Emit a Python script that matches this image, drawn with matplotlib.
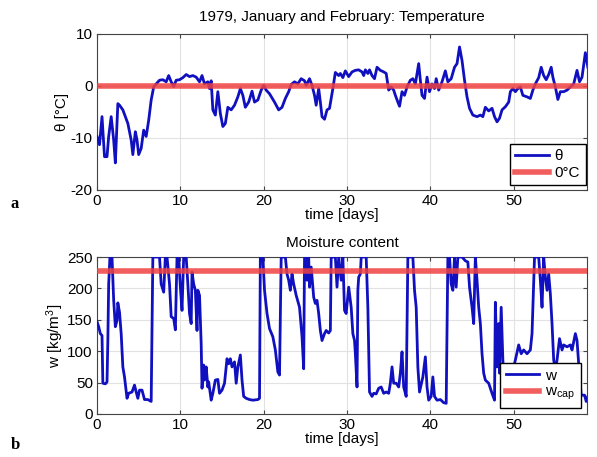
import matplotlib
matplotlib.use("Agg")
import matplotlib.pyplot as plt

# temperature
temp_days = [0, 0.3, 0.6, 0.9, 1.2, 1.4, 1.7, 2.0, 2.2, 2.5, 2.7, 3.1, 3.4, 3.7,
             4.1, 4.3, 4.6, 4.8, 5.0, 5.3, 5.6, 5.9, 6.2, 6.5, 6.8, 7.1, 7.5,
             7.9, 8.3, 8.6, 8.9, 9.2, 9.5, 9.9, 10.3, 10.7, 11.1, 11.5, 11.9,
             12.3, 12.6, 12.9, 13.3, 13.5, 13.7, 13.9, 14.2, 14.5, 14.8, 15.1,
             15.4, 15.7, 16.1, 16.5, 16.9, 17.2, 17.5, 17.8, 18.2, 18.6, 18.9,
             19.3, 19.7, 20.0, 20.3, 20.7, 21.3, 21.8, 22.2, 22.6, 23.0, 23.3,
             23.7, 24.1, 24.5, 24.9, 25.1, 25.5, 25.8, 26.1, 26.3, 26.6, 26.8,
             27.0, 27.3, 27.6, 27.9, 28.3, 28.6, 29.0, 29.2, 29.5, 29.8, 30.2,
             30.6, 31.0, 31.4, 31.8, 32.0, 32.2, 32.5, 32.7, 33.0, 33.3, 33.6,
             34.0, 34.4, 34.7, 35.0, 35.3, 35.6, 35.8, 36.1, 36.3, 36.6, 36.9,
             37.2, 37.6, 37.9, 38.2, 38.6, 38.8, 39.0, 39.3, 39.6, 39.9, 40.2,
             40.5, 40.7, 41.0, 41.4, 41.8, 42.1, 42.5, 42.9, 43.2, 43.5, 43.8,
             44.1, 44.4, 44.7, 45.1, 45.6, 46.0, 46.3, 46.6, 47.0, 47.4, 47.7,
             48.0, 48.3, 48.6, 49.0, 49.4, 49.6, 49.9, 50.2, 50.5, 50.8, 51.1,
             51.6, 52.0, 52.3, 52.6, 53.0, 53.3, 53.6, 53.9, 54.2, 54.5, 54.7,
             55.0, 55.3, 55.6, 56.0, 56.4, 56.8, 57.2, 57.6, 57.9, 58.2, 58.6,
             58.9]
temp = [-9.7, -11.3, -5.9, -13.6, -13.6, -9.7, -5.9, -10.4, -14.8, -3.4, -3.7,
        -4.6, -5.9, -7.2, -10.4, -13.2, -8.8, -10.4, -13.2, -12.0, -8.5, -9.7,
        -6.6, -2.7, -0.2, 0.4, 1.1, 1.2, 0.8, 2.0, 0.8, -0.1, 1.1, 1.2, 1.6,
        2.2, 1.8, 2.0, 1.7, 0.8, 2.0, 0.4, 0.8, -0.5, 1.0, -4.6, -5.6, -1.1,
        -5.3, -7.8, -7.2, -4.1, -4.6, -3.7, -2.1, -0.5, -1.8, -4.1, -3.1,
        -1.0, -3.1, -2.7, -0.8, 0.1, -0.8, -1.5, -3.1, -4.6, -4.1, -2.4,
        -1.1, 0.3, 0.8, 0.4, 1.4, 1.0, 0.1, 1.4, 0.1, -1.8, -3.7, -0.5, -3.1,
        -5.9, -6.4, -4.6, -4.3, -0.5, 2.6, 2.0, 2.4, 1.6, 2.9, 1.8, 2.7, 3.0,
        3.1, 2.7, 2.0, 3.1, 2.4, 3.1, 2.0, 1.4, 3.6, 3.0, 2.7, 2.4, -0.8,
        -0.2, -0.8, -1.8, -3.1, -3.9, -1.1, -1.8, -0.2, 1.1, 1.4, 0.4, 4.3,
        1.1, -1.8, -2.4, 1.7, -1.1, 0.4, -0.5, 1.4, -0.8, 0.8, 2.9, 0.8, 1.4,
        3.6, 4.3, 7.5, 4.9, 1.1, -2.1, -4.3, -5.6, -5.9, -5.6, -5.9, -4.1,
        -4.8, -4.3, -5.9, -6.9, -6.2, -4.6, -4.0, -3.1, -1.1, -0.5, -1.1,
        -0.5, -0.2, -1.8, -2.1, -2.4, -0.8, 0.4, 1.6, 3.6, 2.0, 1.2, 2.2, 3.6,
        1.7, -0.2, -2.6, -1.1, -1.1, -0.8, -0.2, 0.4, 3.0, 0.8, 1.7, 6.4, 3.6]

# moisture content (tops sit at 250)
w_days = [0, 0.2, 0.4, 0.6, 0.7, 1.0, 1.2, 1.3, 1.4, 1.55, 1.8, 2.0, 2.2, 2.4,
          2.5, 2.7, 2.9, 3.1, 3.3, 3.6, 3.8, 4.2, 4.5, 4.7, 4.9, 5.1, 5.4, 5.7,
          6.1, 6.5, 6.7, 7.5, 7.7, 8.0, 8.2, 8.4, 8.7, 8.9, 9.2, 9.4, 9.6, 9.8,
          10.0, 10.2, 10.4, 10.7, 10.9, 11.1, 11.3, 11.4, 11.6, 11.8, 12.0,
          12.1, 12.3, 12.5, 12.6, 12.8, 12.9, 13.1, 13.3, 13.4, 13.7, 13.9,
          14.2, 14.5, 14.7, 15.0, 15.3, 15.6, 15.8, 16.0, 16.2, 16.5, 16.7,
          16.9, 17.2, 17.4, 17.6, 17.9, 18.3, 18.7, 19.3, 19.5, 19.6, 19.9,
          20.1, 20.4, 20.7, 21.1, 21.4, 21.7, 21.9, 22.1, 22.6, 22.8, 23.0,
          23.2, 23.4, 23.6, 23.9, 24.3, 24.6, 24.8, 24.9, 25.1, 25.2, 25.4,
          25.5, 25.7, 26.0, 26.2, 26.4, 26.6, 26.8, 27.0, 27.3, 27.5, 27.8,
          28.0, 28.1, 28.6, 28.8, 29.0, 29.3, 29.5, 29.7, 29.9, 30.2, 30.5,
          30.7, 30.9, 31.0, 31.2, 31.3, 31.4, 31.6, 31.7, 32.3, 32.5, 32.7,
          33.0, 33.2, 33.5, 33.8, 34.1, 34.4, 34.7, 35.0, 35.2, 35.4, 35.6,
          35.9, 36.2, 36.4, 36.6, 36.8, 37.1, 37.3, 37.9, 38.1, 38.3, 38.5,
          38.7, 39.1, 39.4, 39.6, 39.8, 40.1, 40.3, 40.5, 40.8, 41.2, 41.6,
          41.9, 42.1, 42.3, 42.5, 42.7, 42.9, 43.1, 43.3, 43.8, 44.2, 44.5,
          44.7, 45.0, 45.2, 45.4, 45.6, 45.8, 46.0, 46.2, 46.4, 46.6, 47.0,
          47.4, 47.7, 47.8, 48.0, 48.2, 48.3, 48.5, 48.7, 48.9, 49.2, 49.6,
          50.0, 50.2, 50.6, 50.9, 51.2, 51.6, 52.0, 52.2, 52.5, 53.0, 53.2,
          53.4, 53.6, 53.8, 54.0, 54.2, 54.4, 54.6, 54.8, 55.0, 55.2, 55.5,
          55.8, 56.0, 56.4, 56.8, 57.0, 57.4, 57.6, 57.8, 58.1, 58.5, 58.7,
          58.9]
w = [147, 139, 128, 125, 49, 48, 51, 117, 207, 250, 250, 181, 139, 149, 177,
     162, 128, 75, 59, 25, 33, 35, 46, 35, 25, 38, 38, 23, 23, 20, 250, 250,
     207, 194, 250, 250, 207, 155, 152, 134, 250, 250, 202, 165, 250, 250, 207,
     160, 144, 226, 207, 197, 133, 197, 189, 112, 41, 78, 54, 75, 43, 51, 22,
     33, 54, 55, 33, 38, 49, 88, 80, 88, 75, 83, 49, 75, 94, 54, 28, 25, 23,
     22, 23, 25, 250, 250, 197, 160, 136, 123, 102, 67, 62, 250, 250, 223, 213,
     197, 223, 207, 189, 170, 123, 72, 250, 250, 213, 250, 202, 234, 186, 176,
     181, 160, 133, 117, 128, 133, 129, 133, 250, 250, 202, 250, 213, 250, 165,
     160, 202, 170, 128, 117, 96, 43, 197, 218, 223, 250, 250, 170, 35, 28, 33,
     32, 41, 43, 33, 35, 33, 49, 75, 49, 49, 43, 65, 99, 43, 28, 250, 250, 197,
     170, 75, 35, 59, 91, 43, 22, 28, 59, 28, 22, 23, 18, 17, 250, 250, 207,
     197, 250, 202, 250, 250, 244, 242, 202, 170, 144, 250, 213, 170, 144, 96,
     65, 54, 49, 33, 22, 178, 75, 144, 65, 170, 86, 35, 33, 55, 75, 86, 110,
     96, 102, 96, 102, 128, 250, 250, 213, 170, 250, 218, 197, 223, 191, 144,
     86, 70, 86, 120, 102, 110, 107, 110, 102, 128, 117, 80, 30, 30, 20, 28]

w_cap = 228
x_ticks = [0, 10, 20, 30, 40, 50]

plt.rcParams["font.family"] = ["Liberation Sans", "DejaVu Sans"]
plt.rcParams["mathtext.default"] = "regular"
plt.rcParams["axes.unicode_minus"] = False
plt.rcParams["font.size"] = 11

blue = "#1010c0"
red = "#f04040"

fig = plt.figure(figsize=(5.97, 4.57), dpi=100)
ax1 = fig.add_axes([0.1625, 0.5843, 0.8208, 0.3414])
ax2 = fig.add_axes([0.1625, 0.0941, 0.8208, 0.3435])

ax1.plot(temp_days, temp, color=blue, lw=2, label="θ", zorder=3)
ax1.axhline(0, color=red, lw=4, alpha=0.85, label="0°C", zorder=4)
ax1.set_xlim(0, 58.8)
ax1.set_ylim(-20, 10)
ax1.set_yticks([-20, -10, 0, 10])
ax1.set_title("1979, January and February: Temperature", fontsize=11, pad=9)
ax1.set_ylabel("θ [°C]", labelpad=1)
ax1.legend(loc="lower right", bbox_to_anchor=(1.0, 0.02), fancybox=False,
           edgecolor="black", framealpha=1, handlelength=2.2, borderpad=0.35,
           labelspacing=0.2, handletextpad=0.4, borderaxespad=0.1)

ax2.plot(w_days, w, color=blue, lw=2, label="w", zorder=3)
ax2.axhline(w_cap, color=red, lw=4, alpha=0.85, label="w$_{cap}$", zorder=4)
ax2.set_xlim(0, 58.8)
ax2.set_ylim(0, 250)
ax2.set_yticks([0, 50, 100, 150, 200, 250])
ax2.set_title("Moisture content", fontsize=11, pad=7)
ax2.set_ylabel("w [kg/m$^3$]", labelpad=1)
ax2.legend(loc="lower right", bbox_to_anchor=(0.99, 0.03), fancybox=False,
           edgecolor="black", framealpha=1, handlelength=2.2, borderpad=0.35,
           labelspacing=0.15, handletextpad=0.4, borderaxespad=0.1)

for ax in (ax1, ax2):
    ax.set_xticks(x_ticks)
    ax.set_xlabel("time [days]", labelpad=0)
    ax.grid(True, color="#e2e2e2", lw=0.8)
    ax.set_axisbelow(True)
    ax.tick_params(direction="in", length=3, color="#444444", labelsize=11,
                   top=True, right=True, pad=3)
    for s in ax.spines.values():
        s.set_color("#444444")
        s.set_linewidth(0.8)

fig.text(0.018, 0.545, "a", fontsize=12, fontweight="bold", family="Liberation Serif")
fig.text(0.018, 0.018, "b", fontsize=12, fontweight="bold", family="Liberation Serif")

fig.savefig("out.png", dpi=100)
